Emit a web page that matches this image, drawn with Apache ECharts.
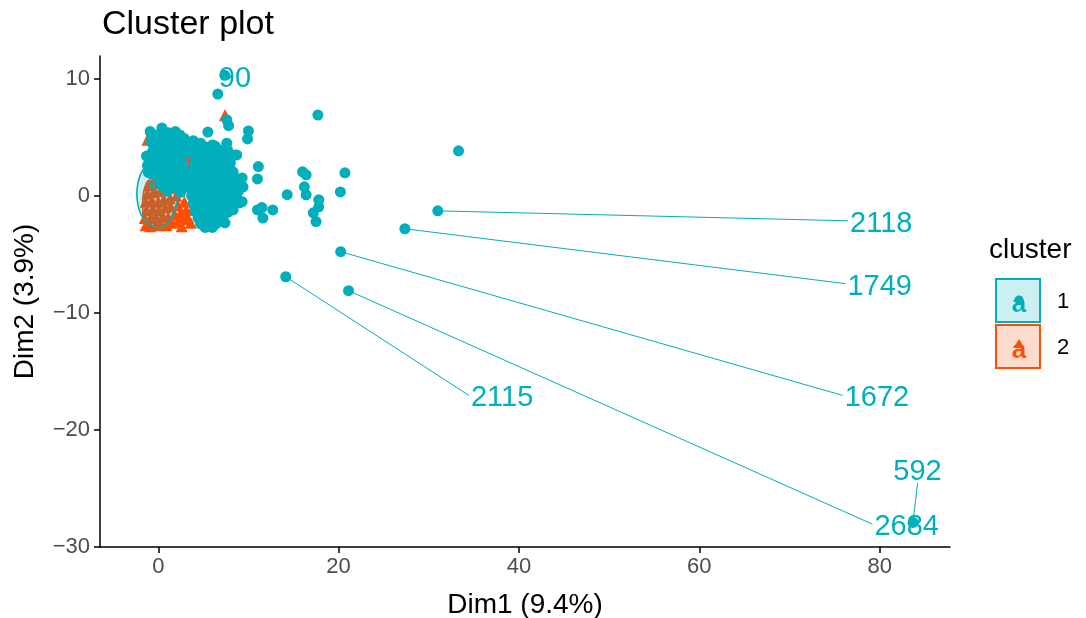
<!DOCTYPE html>
<html>
<head>
<meta charset="utf-8">
<script src="https://cdn.jsdelivr.net/npm/echarts@6/dist/echarts.min.js"></script>
<style>
  html, body { margin: 0; padding: 0; background: #fff; }
  #chart { width: 1086px; height: 618px; }
</style>
</head>
<body>
<div id="chart"></div>
<script>
// tick labels
const xTicks = [0, 20, 40, 60, 80]
const yTicks = [-30, -20, -10, 0, 10]

// cluster 1 (teal circles)
const cluster1 = [
  // labelled / outlying points
  [7.37, 10.3], [6.6, 8.7], [17.7, 6.9], [33.3, 3.85], [16.0, 2.05], [16.4, 1.8], [20.7, 1.97],
  [16.2, 0.77], [16.4, 0.09], [14.3, 0.1], [20.2, 0.34], [17.8, -0.34], [17.8, -0.94], [17.2, -1.45],
  [17.5, -2.2], [31.0, -1.28], [27.35, -2.81], [20.23, -4.77], [14.14, -6.91], [21.1, -8.1], [83.7, -27.9],
  // mid-range scatter
  [7.8, 6.0], [7.6, 6.5], [5.5, 5.45], [10.0, 5.55], [9.9, 4.86], [6.0, 4.35], [7.6, 4.5], [7.7, 3.9],
  [8.7, 3.5], [5.7, 3.75], [4.9, 3.07], [6.8, 3.07], [7.9, 2.8], [8.3, 2.05], [11.1, 2.5], [11.0, 1.45],
  [9.3, 1.53], [9.4, 0.77], [6.8, 1.62], [6.0, 0.77], [7.6, 0.5], [5.4, -0.09], [6.8, -0.34], [8.3, -0.09],
  [9.0, -0.6], [8.3, -1.2], [6.5, -0.94], [5.1, -1.2], [4.6, -1.8], [6.8, -1.8], [7.4, -2.3], [4.9, -2.3],
  [11.0, -1.2], [11.6, -1.9], [12.7, -1.2], [11.5, -1.0], [-0.7, 5.2], [0.5, 5.6], [1.3, 4.95], [0.15, 4.5],
  [3.0, 3.65], [4.6, 3.07], [6.3, 4.26], [8.5, 3.5], [8.1, 1.8], [7.1, -2.05],
  // dense core
  [-0.9, 5.5], [0.4, 5.8], [1.1, 5.4], [1.9, 5.5],
  [-0.4, 5.2], [0.8, 5.2], [1.5, 5.1], [2.4, 5.2],
  [-0.5, 4.9], [0.6, 4.8], [1.4, 5.0], [2.2, 4.8], [2.9, 4.9],
  [-0.8, 4.6], [0.1, 4.6], [1.0, 4.5], [1.8, 4.6], [2.6, 4.5], [3.3, 4.6], [3.9, 4.7], [4.7, 4.5],
  [-0.2, 4.3], [0.8, 4.2], [1.7, 4.4], [2.6, 4.3], [3.5, 4.1], [4.3, 4.3], [5.2, 4.2],
  [-0.5, 4.0], [0.4, 4.0], [1.3, 3.9], [2.1, 4.0], [3.0, 4.1], [3.9, 3.9], [4.8, 4.0], [5.6, 3.9], [6.6, 4.0],
  [-0.7, 3.7], [0.1, 3.6], [1.0, 3.8], [1.9, 3.7], [2.7, 3.6], [3.8, 3.8], [4.5, 3.6], [5.4, 3.7], [6.3, 3.6], [7.0, 3.8],
  [-1.3, 3.4], [-0.2, 3.4], [0.7, 3.3], [1.6, 3.4], [2.4, 3.4], [4.2, 3.4], [5.0, 3.3], [5.9, 3.4], [6.8, 3.4], [7.4, 3.3],
  [-0.4, 3.1], [0.5, 3.0], [1.3, 3.2], [2.2, 3.1], [4.0, 3.0], [4.9, 3.2], [5.7, 3.1], [6.6, 3.0], [7.4, 3.1],
  [-0.6, 2.8], [0.2, 2.8], [1.1, 2.7], [1.9, 2.8], [2.6, 2.9], [4.5, 2.8], [5.3, 2.7], [6.2, 2.8], [7.1, 2.7], [8.0, 2.8],
  [-1.2, 2.6], [-0.1, 2.5], [0.9, 2.4], [1.6, 2.6], [2.4, 2.5], [4.2, 2.4], [5.1, 2.6], [6.0, 2.5], [6.9, 2.4], [7.6, 2.5],
  [-0.3, 2.2], [0.6, 2.2], [1.4, 2.1], [2.3, 2.2], [3.5, 2.2], [4.5, 2.1], [5.4, 2.2], [6.3, 2.3], [7.2, 2.2], [8.1, 2.1],
  [-1.1, 2.0], [-0.8, 1.9], [0.2, 1.8], [1.2, 2.0], [2.1, 1.9], [3.0, 1.8], [3.9, 2.0], [4.7, 1.9], [5.6, 1.8], [6.5, 2.0], [7.3, 1.9], [8.3, 1.8],
  [0.0, 1.5], [1.0, 1.5], [2.0, 1.6], [2.8, 1.5], [3.8, 1.5], [4.7, 1.6], [5.6, 1.5], [6.5, 1.4], [7.4, 1.5], [8.3, 1.5],
  [-0.4, 1.0], [0.5, 0.8], [1.3, 1.0], [2.1, 0.7], [2.8, 1.0], [1.0, 0.4], [2.5, 0.3],
  [3.4, 1.2], [4.3, 1.1], [5.2, 1.3], [6.1, 1.2], [7.0, 1.1], [7.9, 1.2], [8.7, 1.3],
  [3.9, 0.9], [4.8, 0.9], [5.7, 0.8], [6.6, 0.9], [7.5, 0.9], [8.4, 0.8], [9.2, 0.9],
  [3.6, 0.6], [4.4, 0.5], [5.4, 0.7], [6.3, 0.6], [7.1, 0.5], [8.1, 0.6], [8.9, 0.4],
  [4.0, 0.3], [4.9, 0.3], [5.8, 0.2], [6.7, 0.3], [7.6, 0.3], [8.5, 0.2],
  [3.7, 0.0], [4.6, 0.1], [5.5, -0.1], [6.4, 0.0], [7.3, 0.1], [8.2, -0.1],
  [4.2, -0.3], [5.1, -0.3], [6.0, -0.4], [6.9, -0.3], [7.8, -0.3], [8.8, -0.3],
  [3.9, -0.6], [4.8, -0.7], [5.7, -0.5], [6.6, -0.6], [7.5, -0.7], [8.4, -0.6], [9.3, -0.5],
  [4.4, -0.9], [5.3, -1.0], [6.2, -0.9], [7.1, -0.9], [8.0, -1.0],
  [4.1, -1.3], [5.0, -1.4], [5.9, -1.2], [6.8, -1.3], [7.7, -1.4],
  [4.6, -1.6], [5.5, -1.6], [6.4, -1.7], [7.3, -1.6],
  [4.4, -1.9], [5.3, -2.0], [6.2, -1.9], [7.0, -2.0],
  [5.0, -2.2], [5.9, -2.2], [6.8, -2.2],
  [4.7, -2.4], [5.6, -2.5], [6.4, -2.4],
  [5.2, -2.7], [6.0, -2.7]
]

// cluster 2 (orange triangles)
const cluster2 = [
  [-1.2, 4.8], [-0.4, 3.9], [7.4, 6.9], [3.3, 3.3], [2.9, 2.5], [3.5, 2.7],
  [-1.4, -2.5], [-0.9, -2.6], [-0.3, -2.5], [0.3, -2.4], [0.9, -2.5], [1.5, -2.3], [2.1, -2.2], [2.7, -2.0], [3.3, -1.9],
  [-1.5, -1.9], [-0.8, -1.8], [-0.2, -1.9], [0.5, -1.7], [1.1, -1.8], [1.8, -1.6], [2.5, -1.4], [3.1, -1.2],
  [-1.3, -1.2], [-0.6, -1.1], [0.1, -1.2], [0.8, -1.0], [1.4, -0.9], [2.2, -0.8], [2.9, -0.5],
  [-1.4, -0.5], [-0.7, -0.4], [0.0, -0.5], [0.6, -0.3], [1.3, -0.2], [2.0, 0.0],
  [-1.2, 0.2], [-0.5, 0.3], [0.2, 0.4], [0.9, 0.6], [1.6, 0.7],
  [-1.0, 0.9], [-0.3, 1.1], [0.5, 1.3], [1.2, 1.5],
  [3.6, -2.3], [2.6, -2.6], [3.9, -0.9]
]

// text labels: point, and where the label sits
const labelNames = ['90', '2118', '1749', '1672', '2115', '2684', '592']
const labelPoints = [[7.37, 10.3], [31.0, -1.28], [27.35, -2.81], [20.23, -4.77], [14.14, -6.91], [21.1, -8.1], [83.7, -27.9]]
const labelSpots = [[8.5, 10.2], [76.5, -2.13], [76.2, -7.5], [75.9, -17.05], [34.45, -17.05], [79.2, -28.05], [84.2, -24.55]]

// concentration ellipses per cluster: centre and radii
const ellipseCenters = [[-0.1, 0.17], [-0.9, -0.77]]
const ellipseRadii = [[2.27, 2.9], [0.83, 2.13]]

const clusterNames = ['1', '2']

const TEAL = '#00AFBB'
const ORANGE = '#FC4E07'
const COLORS = [TEAL, ORANGE]
const FONT = '"Liberation Sans", Arial, sans-serif'

const chart = echarts.init(document.getElementById('chart'), null, { renderer: 'canvas' })

function renderEllipse(params, api) {
  const cx = api.value(0), cy = api.value(1), rx = api.value(2), ry = api.value(3)
  const pts = []
  for (let i = 0; i < 90; i++) {
    const t = (i / 90) * Math.PI * 2
    pts.push(api.coord([cx + rx * Math.cos(t), cy + ry * Math.sin(t)]))
  }
  const c = COLORS[api.value(4)]
  return {
    type: 'polygon',
    shape: { points: pts },
    style: { fill: echarts.color.modifyAlpha(c, 0.2), stroke: c, lineWidth: 1.6 }
  }
}

function renderLabel(params, api) {
  const p = api.coord([api.value(0), api.value(1)])
  const q = api.coord([api.value(2), api.value(3)])
  const dx = q[0] - p[0], dy = q[1] - p[1]
  const dist = Math.hypot(dx, dy)
  let align = 'left', vAlign = 'middle', tx = q[0] + 2, ty = q[1] + 3
  if (dist < 20) { align = 'center'; tx = q[0] }
  else if (Math.abs(dx) < 12) { align = 'center'; vAlign = 'bottom'; tx = q[0] }
  const children = []
  if (dist >= 20) {
    children.push({ type: 'line', shape: { x1: p[0], y1: p[1], x2: q[0], y2: q[1] }, style: { stroke: TEAL, lineWidth: 1 } })
  }
  children.push({
    type: 'text',
    style: { text: labelNames[params.dataIndex], x: tx, y: ty, align: align, verticalAlign: vAlign, fill: TEAL, fontSize: 29, fontFamily: FONT }
  })
  return { type: 'group', children }
}

const axisCommon = {
  type: 'value',
  splitLine: { show: false },
  axisLine: { show: true, onZero: false, lineStyle: { color: '#000', width: 1.5 } },
  axisTick: { show: true, length: 6, lineStyle: { color: '#000', width: 1.5 } },
  axisLabel: { color: '#4D4D4D', fontSize: 22, fontFamily: FONT },
  nameLocation: 'middle',
  nameTextStyle: { color: '#000', fontSize: 28, fontFamily: FONT }
}

// ellipses drawn orange first, teal on top
const ellipseData = [1, 0].map((i) => [ellipseCenters[i][0], ellipseCenters[i][1], ellipseRadii[i][0], ellipseRadii[i][1], i])

const option = {
  backgroundColor: '#fff',
  animation: false,
  title: {
    text: 'Cluster plot',
    left: 97, top: 3,
    textStyle: { color: '#000', fontSize: 34, fontWeight: 'normal', fontFamily: FONT }
  },
  grid: { left: 100, right: 136, top: 56, bottom: 71, containLabel: false, outerBoundsMode: 'none' },
  xAxis: {
    ...axisCommon,
    min: -6.46, max: 87.8,
    name: 'Dim1 (9.4%)', nameGap: 44,
    axisTick: { ...axisCommon.axisTick, customValues: xTicks },
    axisLabel: { ...axisCommon.axisLabel, margin: 9, customValues: xTicks }
  },
  yAxis: {
    ...axisCommon,
    min: -30, max: 11.95,
    name: 'Dim2 (3.9%)', nameGap: 61,
    axisTick: { ...axisCommon.axisTick, customValues: yTicks },
    axisLabel: {
      ...axisCommon.axisLabel, margin: 10, customValues: yTicks,
      formatter: (v) => String(v).replace('-', '\u2212')
    }
  },
  series: [
    {
      type: 'scatter', name: clusterNames[1], data: cluster2,
      symbol: 'triangle', symbolSize: 12, itemStyle: { color: ORANGE, opacity: 1 }, z: 2
    },
    {
      type: 'scatter', name: clusterNames[0], data: cluster1,
      symbol: 'circle', symbolSize: 11, itemStyle: { color: TEAL, opacity: 1 }, z: 3
    },
    {
      type: 'custom', renderItem: renderEllipse, z: 4,
      data: ellipseData,
      encode: { x: 0, y: 1 }
    },
    {
      type: 'custom', renderItem: renderLabel, z: 5,
      data: labelPoints.map((p, i) => [p[0], p[1], labelSpots[i][0], labelSpots[i][1]]),
      encode: { x: [0, 2], y: [1, 3] }
    }
  ],
  graphic: [
    { type: 'text', x: 989, y: 250, style: { text: 'cluster', fontSize: 28, fontFamily: FONT, fill: '#000', verticalAlign: 'middle' } },
    { type: 'rect', shape: { x: 996, y: 279, width: 44, height: 43 }, style: { fill: '#CCEFF1', stroke: TEAL, lineWidth: 2 } },
    { type: 'text', x: 1019, y: 305, style: { text: 'a', fontSize: 26, fontWeight: 'bold', fontFamily: FONT, fill: TEAL, align: 'center', verticalAlign: 'middle' } },
    { type: 'circle', shape: { cx: 1019, cy: 300, r: 4.5 }, style: { fill: TEAL } },
    { type: 'text', x: 1057, y: 302, style: { text: clusterNames[0], fontSize: 22, fontFamily: FONT, fill: '#000', verticalAlign: 'middle' } },
    { type: 'rect', shape: { x: 996, y: 325, width: 44, height: 43 }, style: { fill: '#FEDCCD', stroke: ORANGE, lineWidth: 2 } },
    { type: 'text', x: 1019, y: 351, style: { text: 'a', fontSize: 26, fontWeight: 'bold', fontFamily: FONT, fill: ORANGE, align: 'center', verticalAlign: 'middle' } },
    { type: 'polygon', shape: { points: [[1019, 339], [1024.5, 348], [1013.5, 348]] }, style: { fill: ORANGE } },
    { type: 'text', x: 1057, y: 348, style: { text: clusterNames[1], fontSize: 22, fontFamily: FONT, fill: '#000', verticalAlign: 'middle' } }
  ]
}

chart.setOption(option)
window.addEventListener('resize', () => chart.resize())
</script>
</body>
</html>
